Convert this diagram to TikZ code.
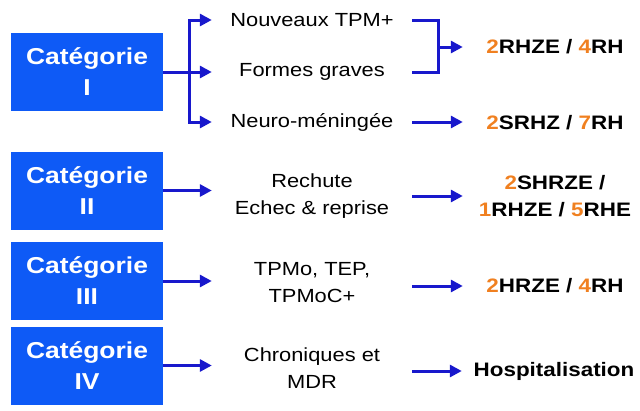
\documentclass[tikz,border=0pt]{standalone}
\usepackage{fontspec}
\setmainfont{Liberation Sans}[FakeStretch=1.15]
\usetikzlibrary{arrows.meta, positioning}
\definecolor{catblue}{RGB}{14,90,246}
\definecolor{arrowblue}{RGB}{24,24,204}
\definecolor{dose}{RGB}{240,128,32}
\tikzset{
    flow/.style = {draw, color=arrowblue, line width=3pt, -{Triangle[length=12pt,width=12pt]}},
    brace/.style = {draw, color=arrowblue, line width=3pt}
}

\begin{document}
\begin{tikzpicture}[
        x=1pt, y=-1pt,
        % STYLES
        category/.style = {rectangle, fill=catblue, text=white, minimum width=152pt, minimum height=78pt, inner sep=0pt, align=center, font=\fontsize{23}{31}\selectfont\bfseries},
        case/.style = {rectangle, minimum width=200pt, inner sep=0pt, align=center, font=\fontsize{19}{27}\selectfont},
        regimen/.style = {rectangle, minimum width=184pt, inner sep=0pt, align=center, font=\fontsize{19.5}{27}\selectfont\bfseries}
    ]
        \useasboundingbox (0,0) rectangle (640,410);

        % --- NODES ---
        % Column 1: Categories
        \node [category] (cat1) at (87,72) {Catégorie\\I};
        \node [category] (cat2) at (87,190.5) {Catégorie\\II};
        \node [category] (cat3) at (87,281) {Catégorie\\III};
        \node [category] (cat4) at (87,365.5) {Catégorie\\IV};

        % Column 2: Cases
        \node [case] (nouveaux) at (312,20) {Nouveaux TPM+};
        \node [case] (formes) at (312,72) {Formes graves};
        \node [case] (neuro) at (312,122) {Neuro-méningée};
        \node [case] (rechute) at (312,196) {Rechute\\Echec \& reprise};
        \node [case] (tpmo) at (312,283) {TPMo, TEP,\\TPMoC+};
        \node [case] (chroniques) at (312,368) {Chroniques et\\MDR};

        % Column 3: Regimens
        \node [regimen] (reg1) at (555,47) {\textcolor{dose}{2}RHZE / \textcolor{dose}{4}RH};
        \node [regimen] (reg1b) at (555,123) {\textcolor{dose}{2}SRHZ / \textcolor{dose}{7}RH};
        \node [regimen] (reg2) at (555,196) {\textcolor{dose}{2}SHRZE /\\\textcolor{dose}{1}RHZE / \textcolor{dose}{5}RHE};
        \node [regimen] (reg3) at (555,286) {\textcolor{dose}{2}HRZE / \textcolor{dose}{4}RH};
        \node [regimen] (reg4) at (554,371) {Hospitalisation};

        % --- PATHS ---
        % Category I fan-out
        \path [brace] (cat1.east) -- ++(26,0) coordinate (bus);
        \path [flow] (bus) |- (nouveaux.west);
        \path [flow] (bus) -- (formes.west);
        \path [flow] (bus) |- (neuro.west);

        % Bracket to first regimen
        \path [brace] (nouveaux.east) -- ++(26,0) coordinate (brk) |- (formes.east);
        \path [flow] (brk |- reg1.west) -- (reg1.west);
        \path [flow] (neuro.east) -- (neuro.east -| reg1b.west);

        % Categories II to IV
        \path [flow] (cat2.east) -- (cat2.east -| rechute.west);
        \path [flow] (rechute.east) -- (reg2.west);
        \path [flow] (cat3.east) -- (cat3.east -| tpmo.west);
        \path [flow] (reg3.west -| tpmo.east) -- (reg3.west);
        \path [flow] (cat4.east) -- (cat4.east -| chroniques.west);
        \path [flow] (reg4.west -| chroniques.east) -- (reg4.west);

    \end{tikzpicture}
\end{document}
